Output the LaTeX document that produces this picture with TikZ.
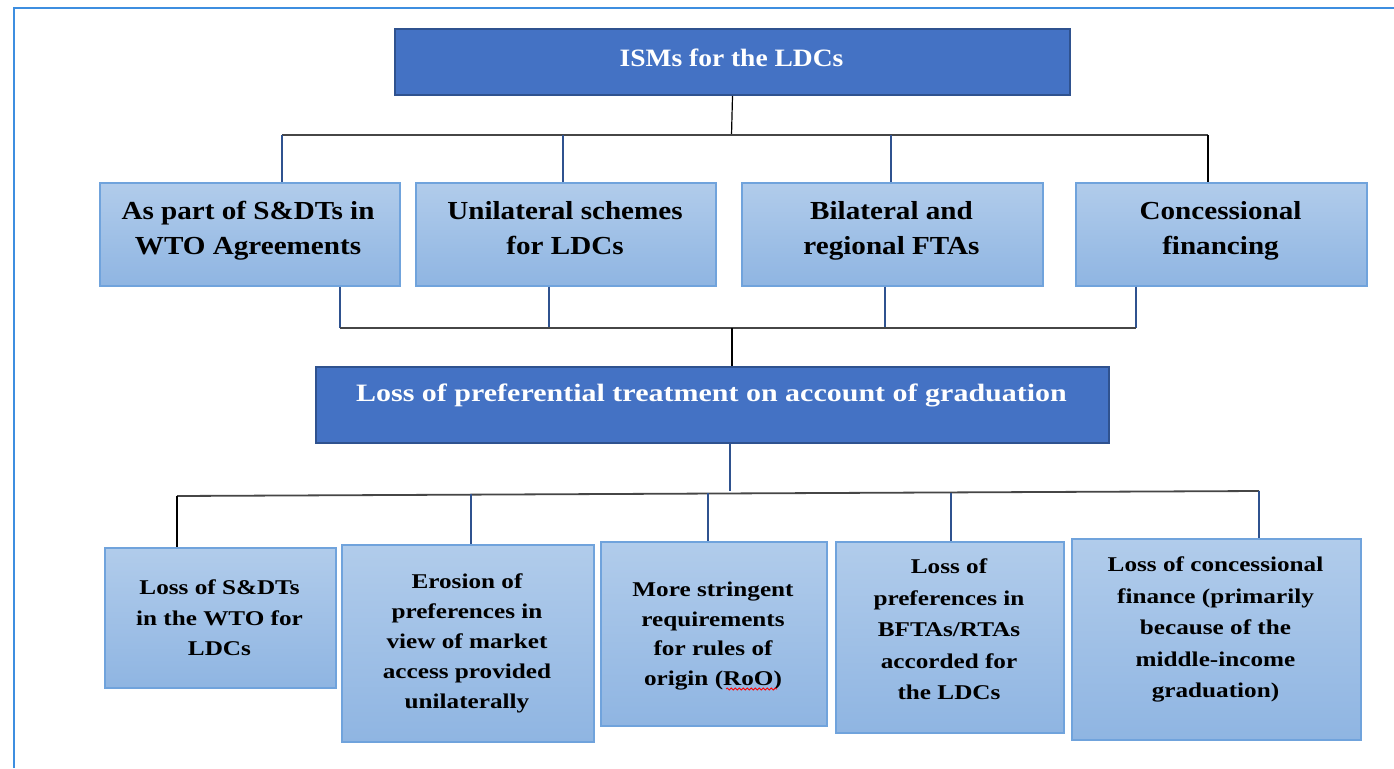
\documentclass[tikz,border=0pt]{standalone}
\usepackage{fontspec}
\setmainfont{Liberation Serif}
\newfontfamily\darkfont[FakeStretch=1.2]{Liberation Serif}
\newfontfamily\topfont[FakeStretch=1.12]{Liberation Serif}
\newfontfamily\isfont[FakeStretch=1.1]{Liberation Serif}
\newfontfamily\lossfont[FakeStretch=1.2]{Liberation Serif}
\usetikzlibrary{decorations.pathmorphing}
\definecolor{frameblue}{RGB}{61,142,224}
\definecolor{darkfill}{RGB}{68,114,196}
\definecolor{darkedge}{RGB}{47,82,143}
\definecolor{lighttop}{RGB}{177,204,235}
\definecolor{lightbot}{RGB}{143,181,226}
\definecolor{lightedge}{RGB}{112,163,220}
\definecolor{linkblue}{RGB}{47,82,143}
\definecolor{busgray}{RGB}{70,70,70}
\begin{document}
\begin{tikzpicture}[x=1pt,y=-1pt,
  darkbox/.style={draw=darkedge, line width=2pt, fill=darkfill, inner sep=0pt, anchor=north west},
  lightbox/.style={draw=lightedge, line width=1.5pt, top color=lighttop, bottom color=lightbot, inner sep=0pt, anchor=north west},
  whitetext/.style={text=white, inner sep=0pt},
  midtext/.style={text=black, inner sep=0pt, align=center, font=\topfont\bfseries\fontsize{26}{35}\selectfont},
  lowtext/.style={text=black, inner sep=0pt, align=center, font=\darkfont\bfseries\fontsize{21}{30.5}\selectfont},
  bluelink/.style={draw=linkblue, line width=2.2pt},
  blacklink/.style={draw=black, line width=1.2pt},
  buslink/.style={draw=busgray, line width=1.8pt}]
\useasboundingbox (0,0) rectangle (1394,768);
\fill[white] (0,0) rectangle (1394,768);
\draw[frameblue, line width=2pt] (14,768) -- (14,8) -- (1394,8);

% top
\node[darkbox, minimum width=675pt, minimum height=66pt] (top) at (394,28) {};
\node[whitetext, font=\isfont\bfseries\fontsize{25}{30}\selectfont] (topt) at (731.5,58) {ISMs for the LDCs};

% second row
\node[lightbox, minimum width=300pt, minimum height=103pt] (b1) at (99,182) {};
\node[lightbox, minimum width=300pt, minimum height=103pt] (b2) at (415,182) {};
\node[lightbox, minimum width=301pt, minimum height=103pt] (b3) at (741,182) {};
\node[lightbox, minimum width=291pt, minimum height=103pt] (b4) at (1075,182) {};
\node[midtext] (b1t) at (248,230) {\strut As part of S\&DTs in\\WTO Agreements\strut};
\node[midtext] (b2t) at (565,230) {\strut Unilateral schemes\\for LDCs\strut};
\node[midtext] (b3t) at (891.5,230) {\strut Bilateral and\\regional FTAs\strut};
\node[midtext] (b4t) at (1220.5,230) {\strut Concessional\\financing\strut};

% middle
\node[darkbox, minimum width=793pt, minimum height=76pt] (mid) at (315,366) {};
\node[whitetext, font=\lossfont\bfseries\fontsize{25}{30}\selectfont] (midt) at (711.5,395) {Loss of preferential treatment on account of graduation};

% bottom row
\node[lightbox, minimum width=231pt, minimum height=140pt] (c1) at (104,547) {};
\node[lightbox, minimum width=252pt, minimum height=197pt] (c2) at (341,544) {};
\node[lightbox, minimum width=226pt, minimum height=184pt] (c3) at (600,541) {};
\node[lightbox, minimum width=228pt, minimum height=191pt] (c4) at (835,541) {};
\node[lightbox, minimum width=289pt, minimum height=201pt] (c5) at (1071,538) {};
\node[lowtext] (c1t) at (219.5,619) {\strut Loss of S\&DTs\\in the WTO for\\LDCs\strut};
\node[lowtext, font=\darkfont\bfseries\fontsize{21}{30}\selectfont] (c2t) at (467,642.7) {\strut Erosion of\\preferences in\\view of market\\access provided\\unilaterally\strut};
\node[lowtext, font=\darkfont\bfseries\fontsize{21}{29.5}\selectfont] (c3t) at (713,635) {\strut More stringent\\requirements\\for rules of\\origin (RoO)\strut};
\node[lowtext, font=\darkfont\bfseries\fontsize{21}{31.5}\selectfont] (c4t) at (949,630.4) {\strut Loss of\\preferences in\\BFTAs/RTAs\\accorded for\\the LDCs\strut};
\node[lowtext, font=\darkfont\bfseries\fontsize{21}{31.5}\selectfont] (c5t) at (1215.5,628.4) {\strut Loss of concessional\\finance (primarily\\because of the\\middle-income\\graduation)\strut};

% upper bus
\coordinate (u0) at (731.5,135);
\coordinate (u1) at (282,135);
\coordinate (u2) at (563,135);
\coordinate (u3) at (891,135);
\coordinate (u4) at (1208,135);
\draw[blacklink] (top.south) -- (u0);
\draw[buslink] (u1) -- (u4);
\draw[bluelink] (u1) -- (u1 |- b1.north);
\draw[bluelink] (u2) -- (u2 |- b2.north);
\draw[bluelink] (u3) -- (u3 |- b3.north);
\draw[blacklink] (u4) -- (u4 |- b4.north);

% second bus
\coordinate (v1) at (340,328);
\coordinate (v2) at (549,328);
\coordinate (v3) at (885,328);
\coordinate (v4) at (1136,328);
\coordinate (v0) at (732,328);
\draw[bluelink] (v1 |- b1.south) -- (v1);
\draw[bluelink] (v2 |- b2.south) -- (v2);
\draw[bluelink] (v3 |- b3.south) -- (v3);
\draw[bluelink] (v4 |- b4.south) -- (v4);
\draw[buslink] (v1) -- (v4);
\draw[blacklink] (v0) -- (v0 |- mid.north);

% lower bus
\coordinate (w0) at (730,491);
\coordinate (w1) at (177,496);
\coordinate (w2) at (471,494);
\coordinate (w3) at (708,493);
\coordinate (w4) at (951,493);
\coordinate (w5) at (1259,491);
\draw[bluelink] (w0 |- mid.south) -- (w0);
\draw[buslink] (w1) -- (w5);
\draw[blacklink] (w1) -- (w1 |- c1.north);
\draw[bluelink] (w2) -- (w2 |- c2.north);
\draw[bluelink] (w3) -- (w3 |- c3.north);
\draw[bluelink] (w4) -- (w4 |- c4.north);
\draw[bluelink] (w5) -- (w5 |- c5.north);

% spell-check underline under RoO
\draw[red, line width=0.8pt, decorate, decoration={snake, amplitude=1pt, segment length=4pt}] (726,689) -- (777,689);
\end{tikzpicture}
\end{document}
